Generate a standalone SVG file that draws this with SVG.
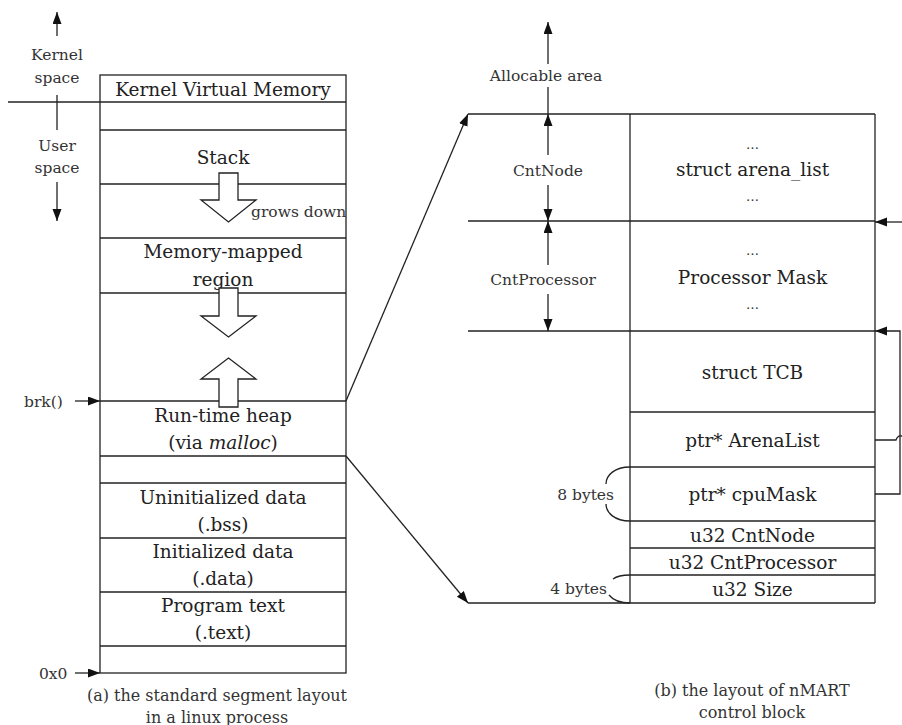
<svg xmlns="http://www.w3.org/2000/svg" width="902" height="725" viewBox="0 0 902 725">
  <style>
    .ln { stroke: #222; stroke-width: 1.3; fill: none; }
    .hollow { stroke: #222; stroke-width: 1.3; fill: #fff; stroke-linejoin: miter; }
    .big { font-family: "DejaVu Serif", "Liberation Serif", serif; font-size: 18.5px; fill: #222; text-anchor: middle; }
    .sm { font-family: "DejaVu Serif", "Liberation Serif", serif; font-size: 15.5px; fill: #333; }
    .cap { font-family: "DejaVu Serif", "Liberation Serif", serif; font-size: 16px; fill: #333; text-anchor: middle; }
    .dots { font-family: "DejaVu Serif", "Liberation Serif", serif; font-size: 13px; fill: #333; text-anchor: middle; }
    .mid { text-anchor: middle; }
    .end { text-anchor: end; }
  </style>
  <defs>
    <marker id="ah" markerUnits="userSpaceOnUse" markerWidth="13" markerHeight="10" refX="12" refY="4.5" orient="auto">
      <path d="M0,0 L12,4.5 L0,9 z" fill="#111"/>
    </marker>
  </defs>

  <rect width="902" height="725" fill="#fff"/>

  <!-- (a) standard segment layout -->
  <g id="segment-layout">
    <rect class="ln" x="100" y="75" width="246" height="598"/>
    <g id="seg-kernel">
      <line class="ln" x1="100" y1="102" x2="346" y2="102"/>
      <text class="big" x="223" y="95.5">Kernel Virtual Memory</text>
    </g>
    <g id="seg-stack">
      <line class="ln" x1="100" y1="130" x2="346" y2="130"/>
      <line class="ln" x1="100" y1="184" x2="346" y2="184"/>
      <text class="big" x="223" y="163.5">Stack</text>
    </g>
    <g id="seg-mmap">
      <line class="ln" x1="100" y1="238" x2="346" y2="238"/>
      <line class="ln" x1="100" y1="293" x2="346" y2="293"/>
      <text class="big" x="223" y="257.5">Memory-mapped</text>
      <text class="big" x="223" y="285.5">region</text>
    </g>
    <g id="seg-heap">
      <line class="ln" x1="100" y1="401" x2="346" y2="401"/>
      <line class="ln" x1="100" y1="456" x2="346" y2="456"/>
      <text class="big" x="223" y="421.5">Run-time heap</text>
      <text class="big" x="223" y="448.5">(via <tspan font-style="italic">malloc</tspan>)</text>
    </g>
    <g id="seg-bss">
      <line class="ln" x1="100" y1="483" x2="346" y2="483"/>
      <text class="big" x="223" y="503.5">Uninitialized data</text>
      <text class="big" x="223" y="530.5">(.bss)</text>
    </g>
    <g id="seg-data">
      <line class="ln" x1="100" y1="538" x2="346" y2="538"/>
      <text class="big" x="223" y="557.5">Initialized data</text>
      <text class="big" x="223" y="584.5">(.data)</text>
    </g>
    <g id="seg-text">
      <line class="ln" x1="100" y1="592" x2="346" y2="592"/>
      <line class="ln" x1="100" y1="646" x2="346" y2="646"/>
      <text class="big" x="223" y="611.5">Program text</text>
      <text class="big" x="223" y="638.5">(.text)</text>
    </g>

    <!-- growth arrows -->
    <g id="grow-arrows">
      <polygon class="hollow" points="219,173 238,173 238,200 256,200 228.5,222 201,200 219,200"/>
      <text class="sm" x="251" y="217">grows down</text>
      <polygon class="hollow" points="219,288 238,288 238,316 256,316 228.5,337 201,316 219,316"/>
      <polygon class="hollow" points="219,407 238,407 238,379 256,379 228.5,358 201,379 219,379"/>
    </g>

    <!-- kernel / user split -->
    <g id="space-split">
      <line class="ln" x1="8" y1="102" x2="100" y2="102"/>
      <line class="ln" x1="57" y1="36" x2="57" y2="12" marker-end="url(#ah)"/>
      <text class="sm mid" x="57" y="59.5">Kernel</text>
      <text class="sm mid" x="57" y="83">space</text>
      <line class="ln" x1="57" y1="95" x2="57" y2="130"/>
      <text class="sm mid" x="57" y="150.5">User</text>
      <text class="sm mid" x="57" y="173">space</text>
      <line class="ln" x1="57" y1="182" x2="57" y2="221" marker-end="url(#ah)"/>
    </g>

    <g id="brk">
      <text class="sm" x="24" y="407">brk()</text>
      <line class="ln" x1="75" y1="401" x2="100" y2="401" marker-end="url(#ah)"/>
    </g>
    <g id="zero">
      <text class="sm" x="39" y="678.5">0x0</text>
      <line class="ln" x1="75" y1="673" x2="100" y2="673" marker-end="url(#ah)"/>
    </g>

    <text class="cap" x="217" y="700.5">(a) the standard segment layout</text>
    <text class="cap" x="217" y="722.5">in a linux process</text>
  </g>

  <!-- (b) nMART control block -->
  <g id="control-block">
    <line class="ln" x1="468" y1="114" x2="875" y2="114"/>
    <line class="ln" x1="468" y1="603" x2="875" y2="603"/>
    <line class="ln" x1="630" y1="114" x2="630" y2="603"/>
    <line class="ln" x1="875" y1="114" x2="875" y2="603"/>

    <g id="cb-arena">
      <text class="dots" x="752.5" y="149">…</text>
      <text class="big" x="752.5" y="175.5">struct arena_list</text>
      <text class="dots" x="752.5" y="201">…</text>
      <line class="ln" x1="468" y1="221" x2="875" y2="221"/>
    </g>
    <g id="cb-mask">
      <text class="dots" x="752.5" y="255">…</text>
      <text class="big" x="752.5" y="283.5">Processor Mask</text>
      <text class="dots" x="752.5" y="309">…</text>
      <line class="ln" x1="468" y1="331" x2="875" y2="331"/>
    </g>
    <g id="cb-tcb">
      <text class="big" x="752.5" y="378.5">struct TCB</text>
      <line class="ln" x1="630" y1="412" x2="875" y2="412"/>
    </g>
    <g id="cb-arenalist">
      <text class="big" x="752.5" y="446.5">ptr* ArenaList</text>
      <line class="ln" x1="630" y1="467" x2="875" y2="467"/>
    </g>
    <g id="cb-cpumask">
      <text class="big" x="752.5" y="500.5">ptr* cpuMask</text>
      <line class="ln" x1="630" y1="521" x2="875" y2="521"/>
    </g>
    <g id="cb-cntnode">
      <text class="big" x="752.5" y="541.5">u32 CntNode</text>
      <line class="ln" x1="630" y1="548" x2="875" y2="548"/>
    </g>
    <g id="cb-cntproc">
      <text class="big" x="752.5" y="568.5">u32 CntProcessor</text>
      <line class="ln" x1="630" y1="575" x2="875" y2="575"/>
    </g>
    <g id="cb-size">
      <text class="big" x="752.5" y="595.5">u32 Size</text>
    </g>

    <!-- size braces -->
    <g id="brace-8">
      <path class="ln" d="M630,467 C615,467 606,475 606,484"/>
      <path class="ln" d="M606,504 C606,513 615,521 630,521"/>
      <text class="sm end" x="614" y="499.5">8 bytes</text>
    </g>
    <g id="brace-4">
      <path class="ln" d="M630,575 C622,575 617,576 613,579"/>
      <path class="ln" d="M609,595 C613,600 620,603 630,603"/>
      <text class="sm end" x="607" y="593.5">4 bytes</text>
    </g>

    <!-- dimension arrows -->
    <g id="dim-allocable">
      <line class="ln" x1="548" y1="114" x2="548" y2="87"/>
      <line class="ln" x1="548" y1="64" x2="548" y2="22" marker-end="url(#ah)"/>
      <text class="sm mid" x="546" y="81">Allocable area</text>
    </g>
    <g id="dim-cntnode">
      <line class="ln" x1="548" y1="155" x2="548" y2="114" marker-end="url(#ah)"/>
      <text class="sm mid" x="548" y="175.5">CntNode</text>
      <line class="ln" x1="548" y1="185" x2="548" y2="221" marker-end="url(#ah)"/>
    </g>
    <g id="dim-cntproc">
      <line class="ln" x1="548" y1="265" x2="548" y2="221" marker-end="url(#ah)"/>
      <text class="sm mid" x="543" y="284.5">CntProcessor</text>
      <line class="ln" x1="548" y1="294" x2="548" y2="331" marker-end="url(#ah)"/>
    </g>

    <text class="cap" x="752" y="695.5">(b) the layout of nMART</text>
    <text class="cap" x="752" y="717.5">control block</text>
  </g>

  <!-- connectors -->
  <g id="connectors">
    <line class="ln" x1="346" y1="401" x2="468" y2="114" marker-end="url(#ah)"/>
    <line class="ln" x1="346" y1="456" x2="468" y2="603" marker-end="url(#ah)"/>
    <!-- pointer links on the right edge -->
    <line class="ln" x1="905" y1="222" x2="875" y2="222" marker-end="url(#ah)"/>
    <path class="ln" d="M875,494 L900,494 L900,331 L875,331" marker-end="url(#ah)"/>
    <path class="ln" d="M875,440 L896,440 Q898,435 901,436 L905,436"/>
  </g>
</svg>
